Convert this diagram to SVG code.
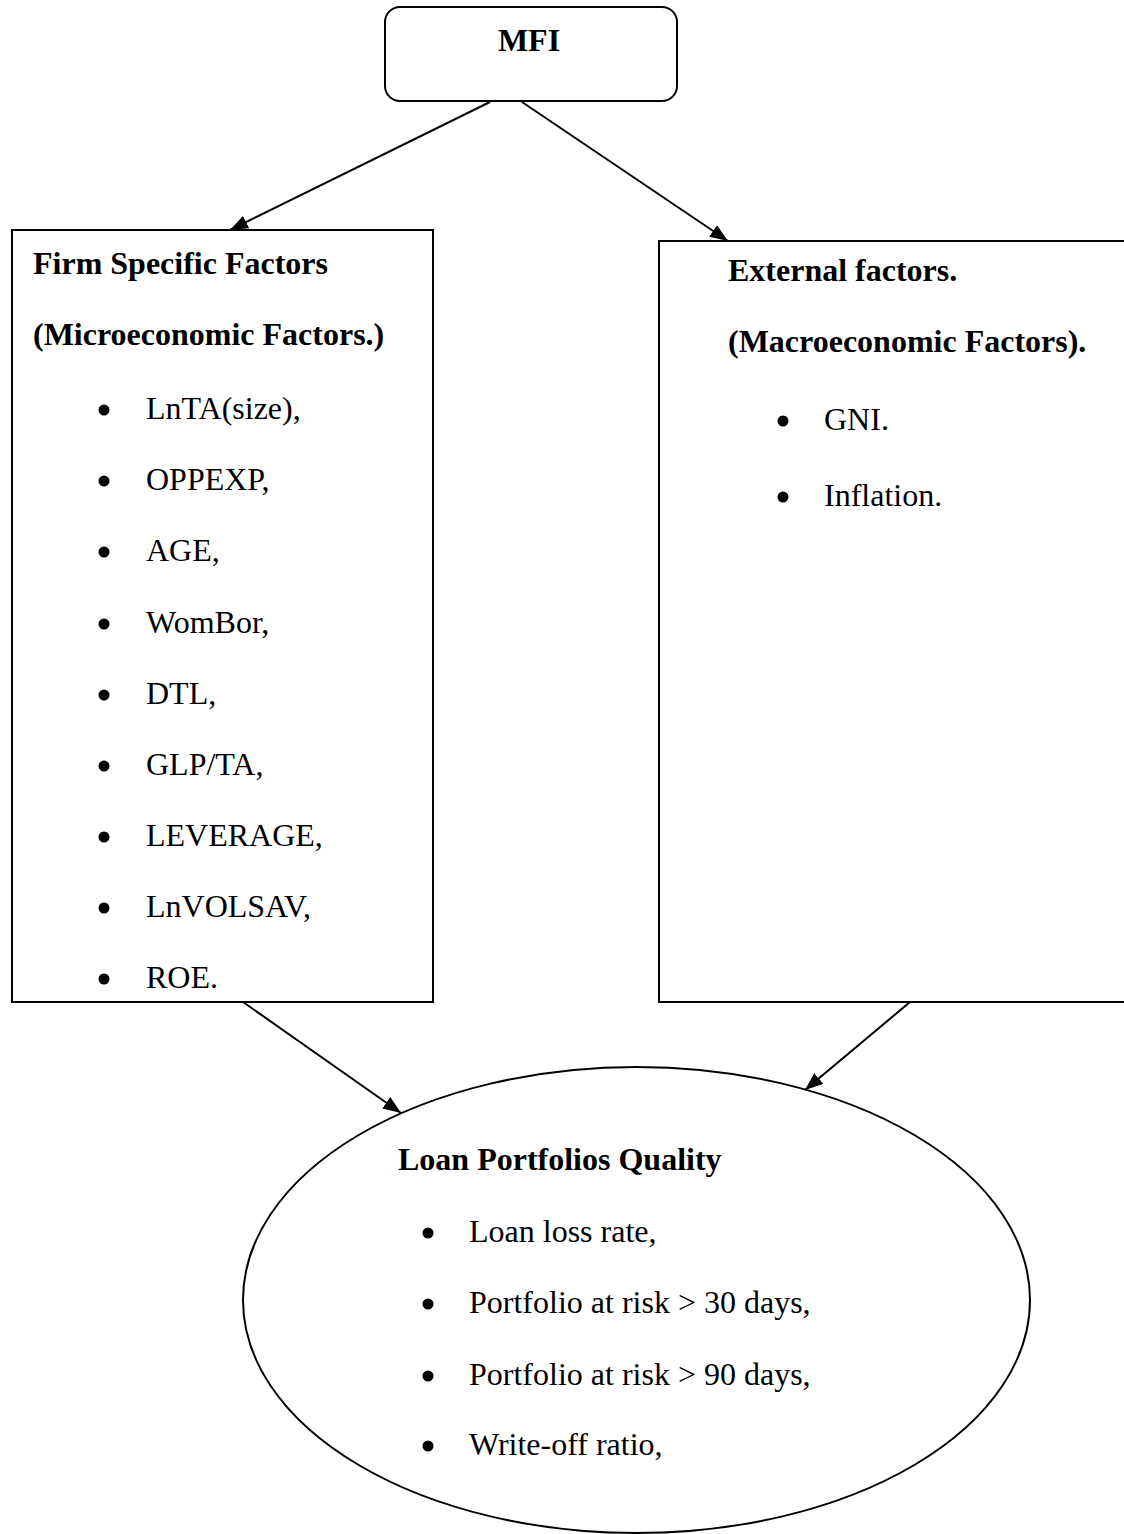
<svg xmlns="http://www.w3.org/2000/svg" width="1124" height="1534" viewBox="0 0 1124 1534">
<style>
text{font-family:"Liberation Serif","Times New Roman",serif;font-size:32px;fill:#000}
.b{font-weight:bold}
.shape{fill:#fff;stroke:#000;stroke-width:2}
.conn{stroke:#000;stroke-width:2;fill:none}
.dot{fill:#000}
</style>
<defs>
<marker id="arr" viewBox="0 0 18 14" refX="18" refY="7" markerWidth="18" markerHeight="14" markerUnits="userSpaceOnUse" orient="auto">
<path d="M0,0 L18,7 L0,14 z" fill="#000"/>
</marker>
</defs>
<rect width="1124" height="1534" fill="#fff"/>
<g id="mfi">
<rect class="shape" x="385" y="7" width="292" height="94" rx="15" ry="15"/>
<text class="b" x="529" y="51" text-anchor="middle">MFI</text>
</g>
<g id="firm">
<rect class="shape" x="12" y="230" width="421" height="772"/>
<text class="b" x="33" y="274">Firm Specific Factors</text>
<text class="b" x="33" y="345">(Microeconomic Factors.)</text>
<circle class="dot" cx="104" cy="410" r="5.5"/><text x="146" y="419">LnTA(size),</text>
<circle class="dot" cx="104" cy="481" r="5.5"/><text x="146" y="490">OPPEXP,</text>
<circle class="dot" cx="104" cy="552" r="5.5"/><text x="146" y="561">AGE,</text>
<circle class="dot" cx="104" cy="624" r="5.5"/><text x="146" y="633">WomBor,</text>
<circle class="dot" cx="104" cy="695" r="5.5"/><text x="146" y="704">DTL,</text>
<circle class="dot" cx="104" cy="766" r="5.5"/><text x="146" y="775">GLP/TA,</text>
<circle class="dot" cx="104" cy="837" r="5.5"/><text x="146" y="846">LEVERAGE,</text>
<circle class="dot" cx="104" cy="908" r="5.5"/><text x="146" y="917">LnVOLSAV,</text>
<circle class="dot" cx="104" cy="979" r="5.5"/><text x="146" y="988">ROE.</text>
</g>
<g id="external">
<rect class="shape" x="659" y="241" width="500" height="761"/>
<text class="b" x="728" y="281">External factors.</text>
<text class="b" x="728" y="352">(Macroeconomic Factors).</text>
<circle class="dot" cx="783" cy="421" r="5.5"/><text x="824" y="430">GNI.</text>
<circle class="dot" cx="783" cy="497" r="5.5"/><text x="824" y="506">Inflation.</text>
</g>
<g id="quality">
<ellipse class="shape" cx="636.5" cy="1300" rx="393.5" ry="233"/>
<text class="b" x="398" y="1170">Loan Portfolios Quality</text>
<circle class="dot" cx="428" cy="1233" r="5.5"/><text x="469" y="1242">Loan loss rate,</text>
<circle class="dot" cx="428" cy="1304" r="5.5"/><text x="469" y="1313">Portfolio at risk &gt; 30 days,</text>
<circle class="dot" cx="428" cy="1376" r="5.5"/><text x="469" y="1385">Portfolio at risk &gt; 90 days,</text>
<circle class="dot" cx="428" cy="1446" r="5.5"/><text x="469" y="1455">Write-off ratio,</text>
</g>
<g id="connectors">
<line class="conn" x1="490" y1="102" x2="230" y2="230" marker-end="url(#arr)"/>
<line class="conn" x1="522" y1="102" x2="728" y2="241" marker-end="url(#arr)"/>
<line class="conn" x1="243" y1="1002" x2="401" y2="1113" marker-end="url(#arr)"/>
<line class="conn" x1="910" y1="1002" x2="805" y2="1090" marker-end="url(#arr)"/>
</g>
</svg>
